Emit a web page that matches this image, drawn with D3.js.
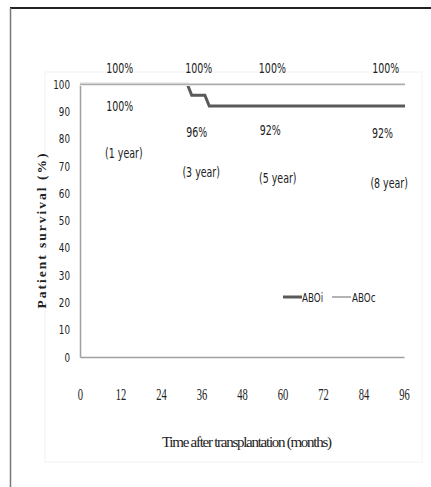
<!DOCTYPE html>
<html>
<head>
<meta charset="utf-8">
<script src="https://cdn.jsdelivr.net/npm/d3@7"></script>
<style>
  body { margin: 0; background: #fff; }
  svg { display: block; }
</style>
</head>
<body>
<div id="chart"></div>
<script>
// survival data (months, %)
const aboiMonths = [0, 31.8, 33.1, 37.0, 38.3, 96.3];
const aboiSurvival = [100, 100, 96, 96, 92, 92];
const abocMonths = [0, 96.3];
const abocSurvival = [100, 100];

const xTicks = [0, 12, 24, 36, 48, 60, 72, 84, 96];
const yTicks = [0, 10, 20, 30, 40, 50, 60, 70, 80, 90, 100];

// annotation text
const topLabels = ["100%", "100%", "100%", "100%"];
const topLabelMonths = [11.8, 35.2, 57, 90.6];
const rateLabels = ["100%", "96%", "92%", "92%"];
const rateValues = [92.2, 82.6, 83.2, 82.1];
const rateMonths = [11.8, 34.6, 56.4, 89.6];
const yearLabels = ["(1 year)", "(3 year)", "(5 year)", "(8 year)"];
const yearValues = [74.8, 68.0, 65.6, 63.8];
const yearMonths = [13, 35.9, 58.6, 91.6];

const W = 431, H = 487;
const svg = d3.select("#chart").append("svg")
    .attr("width", W)
    .attr("height", H);

const x = d3.scaleLinear().domain([0, 96]).range([80, 404]);
const y = d3.scaleLinear().domain([0, 100]).range([357, 84.3]);

// page frame
svg.append("line").attr("x1", 10).attr("x2", W).attr("y1", 8).attr("y2", 8)
   .attr("stroke", "#222").attr("stroke-width", 2);
svg.append("line").attr("x1", 10.5).attr("x2", 10.5).attr("y1", 8).attr("y2", H)
   .attr("stroke", "#777").attr("stroke-width", 1.5);

// faint chart area border
svg.append("rect").attr("x", 45).attr("y", 72).attr("width", 377).attr("height", 390)
   .attr("fill", "none").attr("stroke", "#f2f2f2");

const narrow = "'DejaVu Sans Condensed', sans-serif";
const serif = "'Liberation Serif', 'DejaVu Serif', serif";
const squeeze = 0.78;

// axes
const yAxis = svg.append("g")
    .attr("transform", "translate(80,0)")
    .call(d3.axisLeft(y).tickValues(yTicks).tickSize(0).tickPadding(10));
yAxis.select(".domain").attr("stroke", "#a0a0a0").attr("stroke-width", 1.5);
yAxis.selectAll("text").attr("font-family", narrow).attr("font-size", 12.5)
     .attr("fill", "#222").attr("x", -10 / squeeze)
     .attr("transform", `scale(${squeeze},1)`);

const xAxis = svg.append("g")
    .attr("transform", "translate(0,357)")
    .call(d3.axisBottom(x).tickValues(xTicks).tickSize(0).tickPadding(32));
xAxis.select(".domain").attr("stroke", "#a0a0a0").attr("stroke-width", 1.5);
xAxis.selectAll("text").attr("font-family", serif).attr("font-size", 16)
     .attr("fill", "#222").attr("transform", "scale(0.66,1)");

// lines (ABOc drawn last, over a white halo, so it hides ABOi where both are 100%)
const line = d3.line().x(d => x(d[0])).y(d => y(d[1]));
svg.append("path")
   .datum(d3.zip(aboiMonths, aboiSurvival))
   .attr("fill", "none").attr("stroke", "#5a5a5a").attr("stroke-width", 3)
   .attr("d", line);
svg.append("path")
   .datum(d3.zip(abocMonths, abocSurvival))
   .attr("fill", "none").attr("stroke", "#fff").attr("stroke-width", 3.6)
   .attr("d", line);
svg.append("path")
   .datum(d3.zip(abocMonths, abocSurvival))
   .attr("fill", "none").attr("stroke", "#ababab").attr("stroke-width", 1.8)
   .attr("d", line);

// annotations
const ann = svg.append("g").attr("font-family", narrow).attr("font-size", 13.5)
    .attr("fill", "#222").attr("text-anchor", "middle");
function place(months, vals) {
  return (d, i) => `translate(${x(months[i])},${vals ? y(vals[i]) + 5 : 73}) scale(${squeeze},1)`;
}
ann.selectAll(".top").data(topLabels).join("text")
   .attr("transform", place(topLabelMonths)).text(d => d);
ann.selectAll(".rate").data(rateLabels).join("text")
   .attr("transform", place(rateMonths, rateValues)).text(d => d);
ann.selectAll(".yr").data(yearLabels).join("text")
   .attr("transform", place(yearMonths, yearValues)).text(d => d);

// legend
const legend = svg.append("g").attr("font-family", narrow).attr("font-size", 12.5)
    .attr("fill", "#222");
legend.append("line").attr("x1", 283).attr("x2", 302).attr("y1", 297).attr("y2", 297)
   .attr("stroke", "#5a5a5a").attr("stroke-width", 3);
legend.append("text").attr("transform", `translate(302,301.5) scale(${squeeze},1)`).text("ABOi");
legend.append("line").attr("x1", 332).attr("x2", 351).attr("y1", 297).attr("y2", 297)
   .attr("stroke", "#ababab").attr("stroke-width", 1.8);
legend.append("text").attr("transform", `translate(352,301.5) scale(${squeeze},1)`).text("ABOc");

// axis titles
svg.append("text")
   .attr("x", 247).attr("y", 447)
   .attr("text-anchor", "middle")
   .attr("font-family", serif).attr("font-size", 15).attr("fill", "#222")
   .attr("textLength", 170)
   .text("Time after transplantation (months)");

svg.append("text")
   .attr("transform", "translate(46,230) rotate(-90)")
   .attr("text-anchor", "middle")
   .attr("font-family", serif).attr("font-size", 13.5).attr("font-weight", "bold")
   .attr("fill", "#222").attr("letter-spacing", 2)
   .text("Patient survival (%)");
</script>
</body>
</html>
